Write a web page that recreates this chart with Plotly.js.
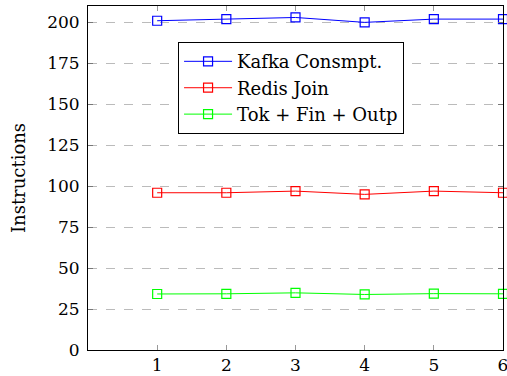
<!DOCTYPE html>
<html><head><meta charset="utf-8">
<script src="https://cdn.plot.ly/plotly-3.0.1.min.js"></script>
<style>body{margin:0;}#c{width:507px;height:376px;}</style>
</head><body><div id="c"></div>
<script>
const xs = [1, 2, 3, 4, 5, 6];
const kafka = [201, 202, 203, 200, 202, 202];
const redis = [96, 96, 97, 95, 97, 96];
const tok = [34.2, 34.3, 34.9, 33.9, 34.4, 34.3];
const names = ["Kafka Consmpt.", "Redis Join", "Tok + Fin + Outp"];
const colors = ["#0000ff", "#ff0000", "#00ff00"];
const series = [kafka, redis, tok];
const F = "DejaVu Serif, serif";
const traces = series.map((s, i) => ({
  x: xs, y: s, name: names[i], type: "scatter", mode: "lines+markers",
  line: {color: colors[i], width: 1},
  marker: {symbol: "square-open", size: 9, color: colors[i], line: {width: 1.2}},
  cliponaxis: false
}));
const layout = {
  width: 507, height: 376,
  margin: {l: 88, r: 4, t: 6, b: 26},
  paper_bgcolor: "#fff", plot_bgcolor: "#fff",
  font: {family: F, size: 17, color: "#000"},
  showlegend: true,
  legend: {x: 0.217, y: 0.895, xanchor: "left", yanchor: "top",
    bordercolor: "#000", borderwidth: 1, bgcolor: "#fff",
    font: {family: F, size: 18}, itemwidth: 48, tracegroupgap: 0},
  xaxis: {range: [0, 6], tickvals: xs, ticktext: xs.map(String), showgrid: false, zeroline: false,
    showline: true, linecolor: "#000", linewidth: 1, mirror: "allticks", ticklabeloverflow: "allow",
    ticks: "inside", ticklen: 5, tickcolor: "#999", tickfont: {family: F, size: 17}},
  yaxis: {range: [0, 210], tickvals: [0,25,50,75,100,125,150,175,200], showgrid: true,
    gridcolor: "#bbb", griddash: "dash", gridwidth: 1, zeroline: false,
    showline: true, linecolor: "#000", linewidth: 1, mirror: "allticks", ticklabelstandoff: 4,
    ticks: "inside", ticklen: 5, tickcolor: "#777", tickfont: {family: F, size: 17},
    title: {text: "Instructions", font: {family: F, size: 18}, standoff: 16}}
};
Plotly.newPlot("c", traces, layout, {staticPlot: true, displayModeBar: false});
</script></body></html>
